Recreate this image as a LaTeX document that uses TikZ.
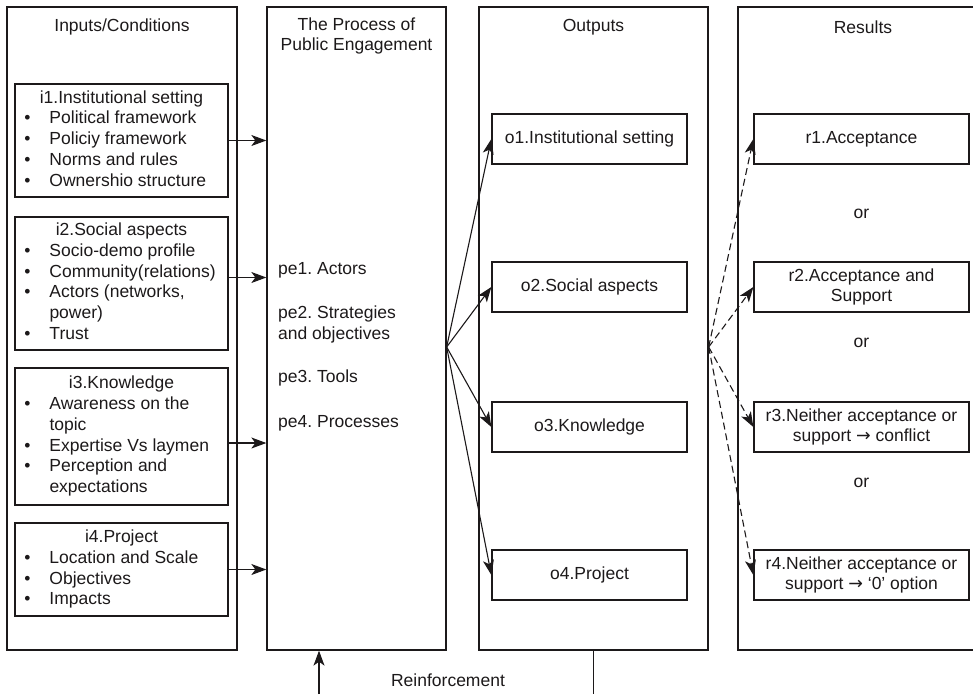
\documentclass[tikz,border=0pt]{standalone}
\usepackage{fontspec}
\setmainfont{Liberation Sans}
\newfontfamily\symfont{DejaVu Sans}
\usetikzlibrary{arrows.meta}
\definecolor{ink}{RGB}{28,25,26}
\newcommand\itembox[1]{\begin{tabular}{@{\hspace{9pt}}p{25pt}@{}p{178pt}@{}}#1\end{tabular}}
\newcommand\bul{\textbullet}
\newcommand\rarr{{\symfont\char"2192}}
\frenchspacing
\begin{document}
\begin{tikzpicture}[x=1pt,y=-1pt,
  font=\fontsize{17.5}{20.7}\selectfont, text=ink,
  colbox/.style={draw=ink, line width=1.3pt, minimum width=#1, minimum height=643pt, inner sep=0pt},
  ibox/.style={draw=ink, line width=1.3pt, minimum width=213pt, inner sep=0pt},
  obox/.style={draw=ink, line width=1.3pt, minimum width=195pt, minimum height=50pt, inner sep=0pt, align=center},
  rbox/.style={draw=ink, line width=1.3pt, minimum width=215pt, minimum height=50pt, inner sep=0pt, align=center},
  arr/.style={draw=ink, line width=1.1pt, -{Stealth[length=15pt,width=11pt,inset=4pt]}},
  darr/.style={arr, dash pattern=on 7pt off 4pt},
  plain/.style={draw=ink, line width=1.1pt}]
\useasboundingbox (0,0) rectangle (973,694);
\clip (0,0) rectangle (973,694);
% columns
\node[colbox=230pt] (C1) at (122,328.5) {};
\node[colbox=179pt] (C2) at (356.5,328.5) {};
\node[colbox=229pt] (C3) at (593.5,328.5) {};
\node[colbox=250pt] (C4) at (863,328.5) {};
% titles
\node (T1) at (122,27) {Inputs/Conditions};
\node[align=center] (T2) at (356.5,36) {The Process of\\Public Engagement};
\node (T3) at (593.5,27) {Outputs};
\node (T4) at (863,27) {Results};
% input boxes
\node[ibox, minimum height=113pt] (i1) at (121.5,140.5) {\itembox{%
  \multicolumn{2}{@{}c@{}}{i1.Institutional setting}\\
  \bul & Political framework\\
  \bul & Policiy framework\\
  \bul & Norms and rules\\
  \bul & Ownershio structure}};
\node[ibox, minimum height=133pt] (i2) at (121.5,283.5) {\itembox{%
  \multicolumn{2}{@{}c@{}}{i2.Social aspects}\\
  \bul & Socio-demo profile\\
  \bul & Community(relations)\\
  \bul & Actors (networks,\newline power)\\
  \bul & Trust}};
\node[ibox, minimum height=137pt] (i3) at (121.5,436.5) {\itembox{%
  \multicolumn{2}{@{}c@{}}{i3.Knowledge}\\
  \bul & Awareness on the\newline topic\\
  \bul & Expertise Vs laymen\\
  \bul & Perception and\newline expectations}};
\node[ibox, minimum height=93pt] (i4) at (121.5,569.5) {\itembox{%
  \multicolumn{2}{@{}c@{}}{i4.Project}\\
  \bul & Location and Scale\\
  \bul & Objectives\\
  \bul & Impacts}};
% process texts
\node[anchor=west, inner sep=0pt] (pe1) at (278,270) {pe1. Actors};
\node[anchor=west, inner sep=0pt, align=left] (pe2) at (278,324.7) {pe2. Strategies\\and objectives};
\node[anchor=west, inner sep=0pt] (pe3) at (278,378) {pe3. Tools};
\node[anchor=west, inner sep=0pt] (pe4) at (278,423) {pe4. Processes};
% outputs
\node[obox] (o1) at (589.5,139) {o1.Institutional setting};
\node[obox] (o2) at (589.5,287) {o2.Social aspects};
\node[obox] (o3) at (589.5,427) {o3.Knowledge};
\node[obox] (o4) at (589.5,575) {o4.Project};
% results
\node[rbox] (r1) at (861.5,139) {r1.Acceptance};
\node[rbox] (r2) at (861.5,287) {r2.Acceptance and\\Support};
\node[rbox] (r3) at (861.5,427) {r3.Neither acceptance or\\support \rarr{} conflict};
\node[rbox] (r4) at (861.5,575) {r4.Neither acceptance or\\support \rarr{} ‘0’ option};
\node (or1) at (861.5,214) {or};
\node (or2) at (861.5,343) {or};
\node (or3) at (861.5,483) {or};
% input arrows
\draw[arr] (i1.east) -- (i1.east -| C2.west);
\draw[arr] ([yshift=6pt]i2.east) -- ([yshift=6pt]i2.east -| C2.west);
\draw[arr] ([yshift=-6.5pt]i3.east) -- ([yshift=-6.5pt]i3.east -| C2.west);
\draw[arr] (i4.east) -- (i4.east -| C2.west);
% fan arrows
\coordinate (F1) at ([yshift=-18.5pt]C2.east);
\coordinate (F2) at ([yshift=-18.5pt]C3.east);
\foreach \o in {o1,o2,o3,o4} \draw[arr] (F1) -- (\o.west);
\foreach \r in {r1,r2,r3,r4} \draw[darr] (F2) -- (\r.west);
% reinforcement
\coordinate (RB1) at (319,694);
\coordinate (RB2) at (593.5,694);
\draw[arr] (RB1) -- (RB1 |- C2.south);
\draw[plain] (C3.south) -- (RB2);
\node (RF) at (448,680) {Reinforcement};
\end{tikzpicture}
\end{document}
